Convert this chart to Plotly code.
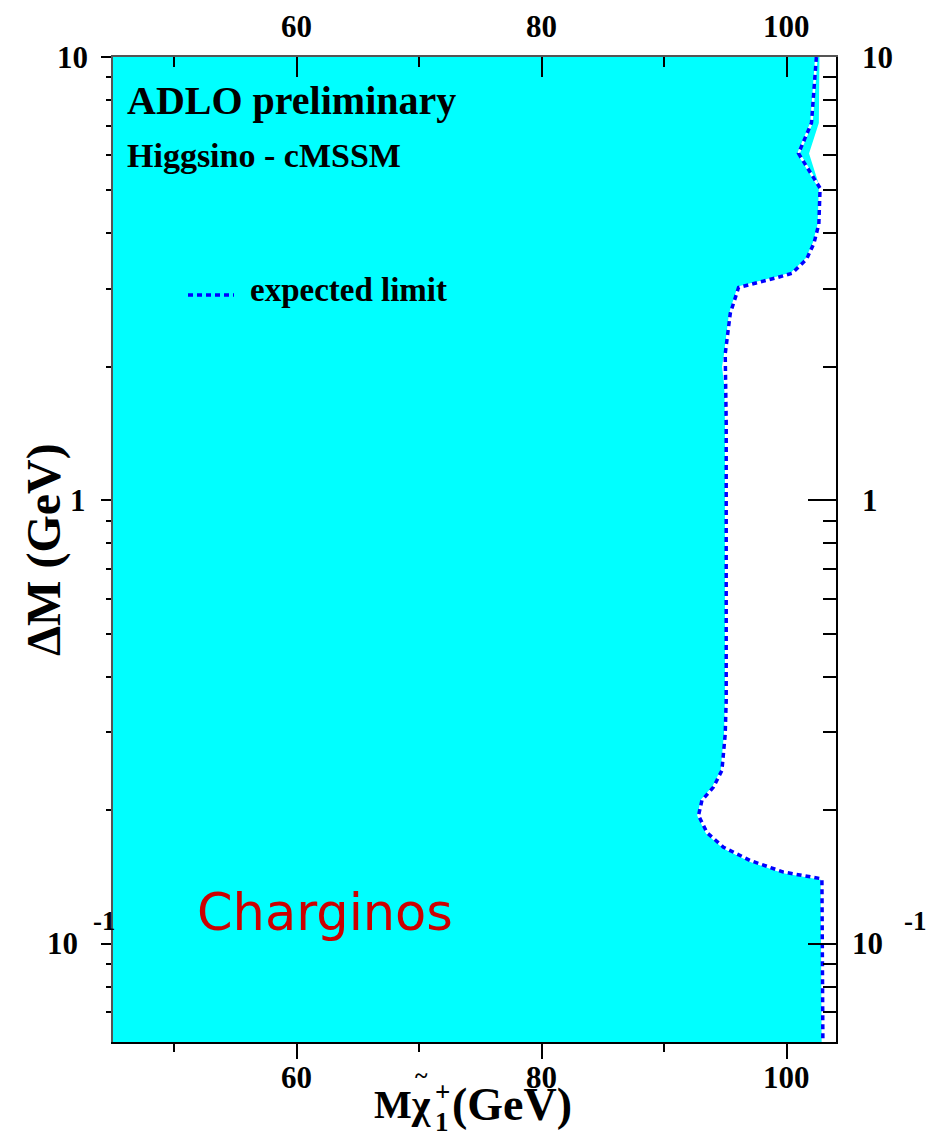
import math
import plotly.graph_objects as go

# Excluded region boundary (observed): chargino mass [GeV] vs Delta M [GeV], top to bottom
obs_mass = [102.65, 102.6, 101.8, 102.7, 102.6, 102.2, 101.6, 100.4, 99.2, 97.3, 96.05,
            95.6, 95.2, 94.7, 95.0, 95.04, 95.04, 94.96, 94.69, 94.0, 93.06, 92.78,
            93.47, 94.82, 97.0, 99.72, 102.85, 102.93]
obs_dm = [10.0, 7.1, 6.06, 5.06, 4.2, 3.8, 3.5, 3.25, 3.18, 3.08, 3.02,
          2.73, 2.45, 2.0, 1.7, 1.0, 0.4, 0.297, 0.246, 0.2255, 0.2105, 0.1946,
          0.178, 0.165, 0.154, 0.145, 0.14, 0.06]

# Expected limit contour
exp_mass = [102.4, 102.0, 100.94, 102.7, 102.6, 102.2, 101.6, 100.4, 99.2, 97.3, 96.05,
            95.37, 94.96, 95.04, 95.04, 94.96, 94.69, 94.0, 93.06, 92.78, 93.47, 94.82,
            97.0, 99.72, 102.85, 102.93]
exp_dm = [10.0, 7.1, 6.06, 5.06, 4.2, 3.8, 3.5, 3.25, 3.18, 3.08, 3.02,
          2.64, 2.14, 1.5, 0.354, 0.297, 0.246, 0.2255, 0.2105, 0.1946, 0.178, 0.165,
          0.154, 0.145, 0.14, 0.06]

# Axis limits and ticks
x_range = [45, 104]
dm_min, dm_max = 0.06, 10.0
x_major = [60, 80, 100]
x_labels = ["60", "80", "100"]
x_minor = [50, 70, 90]
y_major = [0.1, 1, 10]
y_minor = [0.07, 0.08, 0.09, 0.2, 0.3, 0.4, 0.5, 0.6, 0.7, 0.8, 0.9,
           2, 3, 4, 5, 6, 7, 8, 9]

W, H = 942, 1136
L, R, T, B = 113, 836, 57, 1042


def px(xp):
    return (xp - L) / (R - L)


def py(yp):
    return (B - yp) / (B - T)


SERIF = "Liberation Serif"
CYAN = "#00ffff"

fig = go.Figure()

# Excluded area
fig.add_trace(go.Scatter(
    x=[x_range[0]] + obs_mass + [x_range[0]],
    y=[dm_max] + obs_dm + [dm_min],
    mode="lines", fill="toself", fillcolor=CYAN,
    line=dict(width=0, color=CYAN), hoverinfo="skip", showlegend=False))

# Expected limit: white halo under blue dashes
fig.add_trace(go.Scatter(
    x=exp_mass, y=exp_dm, mode="lines",
    line=dict(color="white", width=2.5), hoverinfo="skip", showlegend=False))
fig.add_trace(go.Scatter(
    x=exp_mass, y=exp_dm, mode="lines",
    line=dict(color="#0000ff", width=3.5, dash="5px,4px"),
    showlegend=False))

# Carrier for the mirrored top/right axes
fig.add_trace(go.Scatter(x=[None], y=[None], xaxis="x2", yaxis="y2",
                         hoverinfo="skip", showlegend=False))

tick_font = dict(family=SERIF, size=31, color="black", weight="bold")
ylog = [math.log10(dm_min), math.log10(dm_max)]

fig.update_layout(
    width=W, height=H,
    margin=dict(l=L, r=W - R, t=T, b=H - B),
    paper_bgcolor="white", plot_bgcolor="white",
    xaxis=dict(range=x_range, tickmode="array", tickvals=x_major,
               showticklabels=False, automargin=False,
               ticks="outside", ticklen=15, tickwidth=2, tickcolor="black",
               minor=dict(tickmode="array", tickvals=x_minor, ticks="outside",
                          ticklen=8, tickwidth=2, tickcolor="black"),
               showline=True, linewidth=2, linecolor="black",
               showgrid=False, zeroline=False),
    xaxis2=dict(range=x_range, overlaying="x", side="top", anchor="y",
                tickmode="array", tickvals=x_major,
                showticklabels=False, automargin=False,
                ticks="inside", ticklen=20, tickwidth=2, tickcolor="black",
                minor=dict(tickmode="array", tickvals=x_minor, ticks="inside",
                           ticklen=10, tickwidth=2, tickcolor="black"),
                showline=True, linewidth=2, linecolor="#555555",
                showgrid=False, zeroline=False),
    yaxis=dict(type="log", range=ylog, tickmode="array", tickvals=y_major,
               showticklabels=False, automargin=False,
               ticks="outside", ticklen=10, tickwidth=2, tickcolor="black",
               minor=dict(tickmode="array", tickvals=y_minor, ticks="outside",
                          ticklen=5, tickwidth=2, tickcolor="black"),
               showline=True, linewidth=2, linecolor="#555555",
               showgrid=False, zeroline=False),
    yaxis2=dict(type="log", range=ylog, overlaying="y", side="right", anchor="x",
                tickmode="array", tickvals=y_major, showticklabels=False,
                automargin=False,
                ticks="inside", ticklen=28, tickwidth=2, tickcolor="black",
                minor=dict(tickmode="array", tickvals=y_minor, ticks="inside",
                           ticklen=13, tickwidth=2, tickcolor="black"),
                showline=True, linewidth=2, linecolor="black",
                showgrid=False, zeroline=False),
)

# X tick labels, bottom and top
for v, txt in zip(x_major, x_labels):
    fig.add_annotation(x=v, xref="x", y=py(1077), yref="paper", text=txt,
                       showarrow=False, xanchor="center", yanchor="middle",
                       font=tick_font)
    fig.add_annotation(x=v, xref="x", y=py(27), yref="paper", text=txt,
                       showarrow=False, xanchor="center", yanchor="middle",
                       font=tick_font)

# Y tick labels on both sides (log axis annotations use log10 values)
y_labels = {10: "10", 1: "1", 0.1: "10"}
left_edge = {10: 90, 1: 88, 0.1: 80}
right_edge = {10: 860, 1: 860, 0.1: 850}
for v, txt in y_labels.items():
    fig.add_annotation(x=px(left_edge[v]), xref="paper", y=math.log10(v), yref="y",
                       text=txt, showarrow=False, xanchor="right", yanchor="middle",
                       font=tick_font)
    fig.add_annotation(x=px(right_edge[v]), xref="paper", y=math.log10(v), yref="y",
                       text=txt, showarrow=False, xanchor="left", yanchor="middle",
                       font=tick_font)
exp_font = dict(family=SERIF, size=27, color="black", weight="bold")
fig.add_annotation(x=px(91), xref="paper", y=-1, yref="y", yshift=23,
                   text="-1", showarrow=False, xanchor="left", yanchor="middle",
                   font=exp_font)
fig.add_annotation(x=px(902), xref="paper", y=-1, yref="y", yshift=23,
                   text="-1", showarrow=False, xanchor="left", yanchor="middle",
                   font=exp_font)

# Texts inside the frame
fig.add_annotation(x=px(125), xref="paper", y=py(100), yref="paper",
                   text="ADLO preliminary", showarrow=False,
                   xanchor="left", yanchor="middle",
                   font=dict(family=SERIF, size=40, color="black", weight="bold"))
fig.add_annotation(x=px(125), xref="paper", y=py(155), yref="paper",
                   text="Higgsino - cMSSM", showarrow=False,
                   xanchor="left", yanchor="middle",
                   font=dict(family=SERIF, size=34, color="black", weight="bold"))
fig.add_shape(type="line", xref="paper", yref="paper",
              x0=px(188), x1=px(234), y0=py(295), y1=py(295),
              line=dict(color="#0000ff", width=3.5, dash="5px,4px"))
fig.add_annotation(x=px(248), xref="paper", y=py(290), yref="paper",
                   text="expected limit", showarrow=False,
                   xanchor="left", yanchor="middle",
                   font=dict(family=SERIF, size=33, color="black", weight="bold"))
fig.add_annotation(x=px(195), xref="paper", y=py(912), yref="paper",
                   text="Charginos", showarrow=False,
                   xanchor="left", yanchor="middle",
                   font=dict(family="DejaVu Sans", size=51, color="#cc0000"))

# Axis titles
fig.add_annotation(x=px(44), xref="paper", y=py(550), yref="paper",
                   text="\u0394M (GeV)", textangle=-90, showarrow=False,
                   xanchor="center", yanchor="middle",
                   font=dict(family=SERIF, size=48, color="black", weight="bold"))
title_font = dict(family=SERIF, size=40, color="black", weight="bold")
small_font = dict(family=SERIF, size=27, color="black", weight="bold")
fig.add_annotation(x=px(433), xref="paper", y=py(1104), yref="paper",
                   text="M\u03c7", showarrow=False,
                   xanchor="right", yanchor="middle", font=title_font)
fig.add_annotation(x=px(421), xref="paper", y=py(1075), yref="paper",
                   text="~", showarrow=False, xanchor="center", yanchor="middle",
                   font=dict(family=SERIF, size=24, color="black", weight="bold"))
fig.add_annotation(x=px(442), xref="paper", y=py(1092), yref="paper",
                   text="+", showarrow=False, xanchor="center", yanchor="middle",
                   font=small_font)
fig.add_annotation(x=px(442), xref="paper", y=py(1122), yref="paper",
                   text="1", showarrow=False, xanchor="center", yanchor="middle",
                   font=small_font)
fig.add_annotation(x=px(512), xref="paper", y=py(1104), yref="paper",
                   text="(GeV)", showarrow=False, xanchor="center", yanchor="middle",
                   font=dict(family=SERIF, size=46, color="black", weight="bold"))

fig.write_html("out.html")
